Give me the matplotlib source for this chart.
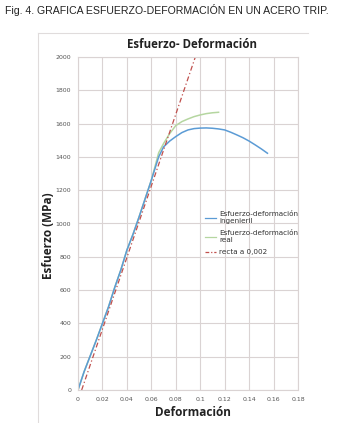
import matplotlib
matplotlib.use("Agg")
import matplotlib.pyplot as plt
from matplotlib.lines import Line2D

# Data
eng_strain = [0, 0.005, 0.01, 0.015, 0.02, 0.025, 0.03, 0.035, 0.04, 0.045, 0.05, 0.055,
              0.06, 0.066, 0.07, 0.075, 0.08, 0.085, 0.09, 0.095, 0.1, 0.105, 0.11, 0.115,
              0.12, 0.125, 0.13, 0.135, 0.14, 0.145, 0.15, 0.155]
eng_stress = [0, 110, 205, 300, 400, 500, 615, 720, 840, 935, 1040, 1150,
              1260, 1400, 1460, 1495, 1522, 1546, 1562, 1570, 1573, 1574, 1572, 1568,
              1562, 1548, 1532, 1515, 1495, 1472, 1448, 1422]
real_strain = [0, 0.005, 0.01, 0.015, 0.02, 0.025, 0.03, 0.035, 0.04, 0.045, 0.05, 0.055,
               0.06, 0.066, 0.07, 0.075, 0.08, 0.085, 0.09, 0.095, 0.1, 0.105, 0.11, 0.115]
real_stress = [0, 110, 205, 300, 400, 500, 615, 720, 840, 935, 1040, 1150,
               1260, 1425, 1480, 1540, 1588, 1612, 1628, 1642, 1652, 1660, 1665, 1668]
recta_strain = [0.003, 0.096]
recta_stress = [0, 2000]

xticks = [0, 0.02, 0.04, 0.06, 0.08, 0.1, 0.12, 0.14, 0.16, 0.18]
xticklabels = ["0", "0.02", "0.04", "0.06", "0.08", "0.1", "0.12", "0.14", "0.16", "0.18"]
yticks = [0, 200, 400, 600, 800, 1000, 1200, 1400, 1600, 1800, 2000]

labels = ["Esfuerzo-deformación\ningenieril", "Esfuerzo-deformación\nreal", "recta a 0,002"]
colors = ["#5B9BD5", "#B5D6A0", "#C0504D"]

W, H = 350, 423
fig = plt.figure(figsize=(W / 100, H / 100), dpi=100)
ax = fig.add_axes([78 / W, 1 - 390 / H, 220 / W, 333 / H])

ax.plot(real_strain, real_stress, color=colors[1], lw=1.1)
ax.plot(eng_strain, eng_stress, color=colors[0], lw=1.1)
ax.plot(recta_strain, recta_stress, color=colors[2], lw=0.9, ls=(0, (4, 2, 1, 2)))

ax.set_xlim(0, 0.18)
ax.set_ylim(0, 2000)
ax.set_xticks(xticks)
ax.set_xticklabels(xticklabels)
ax.set_yticks(yticks)
ax.grid(True, color="#DAD3D3", lw=0.8)
ax.set_axisbelow(True)
for s in ax.spines.values():
    s.set_color("#DAD3D3")
    s.set_linewidth(0.8)
ax.tick_params(length=0, labelsize=4.5, labelcolor="#555555", pad=5)

# Legend
handles = [Line2D([], [], color=colors[0], lw=0.9),
           Line2D([], [], color=colors[1], lw=0.9),
           Line2D([], [], color=colors[2], lw=0.9, ls=(0, (3, 1.5, 1, 1.5)))]
fig.legend(handles, labels, loc="upper left", bbox_to_anchor=(198 / W, 1 - 205 / H),
           frameon=False, fontsize=5.2, handlelength=1.6, handletextpad=0.4,
           labelspacing=0.8, labelcolor="#333333")

# Texts
fig.text(5 / W, 1 - 10 / H, "Fig. 4. GRAFICA ESFUERZO-DEFORMACIÓN EN UN ACERO TRIP.",
         fontsize=7.6, family="Liberation Sans", ha="left", va="center", color="#222222")
fig.text(192 / W, 1 - 45 / H, "Esfuerzo- Deformación", fontsize=8.3, fontweight="bold",
         family="Open Sans", ha="center", va="center", color="#222222")
fig.text(193 / W, 1 - 412 / H, "Deformación", fontsize=8.5, fontweight="bold",
         family="Open Sans", ha="center", va="center", color="#222222")
fig.text(48 / W, 1 - 236 / H, "Esfuerzo (MPa)", fontsize=8.5, fontweight="bold",
         family="Open Sans", ha="center", va="center", rotation=90, color="#222222")

# Outer chart frame
fig.add_artist(Line2D([38 / W, 308 / W], [1 - 33 / H, 1 - 33 / H], transform=fig.transFigure,
                      color="#E0DCDC", lw=0.8))
fig.add_artist(Line2D([38 / W, 38 / W], [1 - 33 / H, 0], transform=fig.transFigure,
                      color="#E0DCDC", lw=0.8))

fig.savefig("out.png", dpi=100)
